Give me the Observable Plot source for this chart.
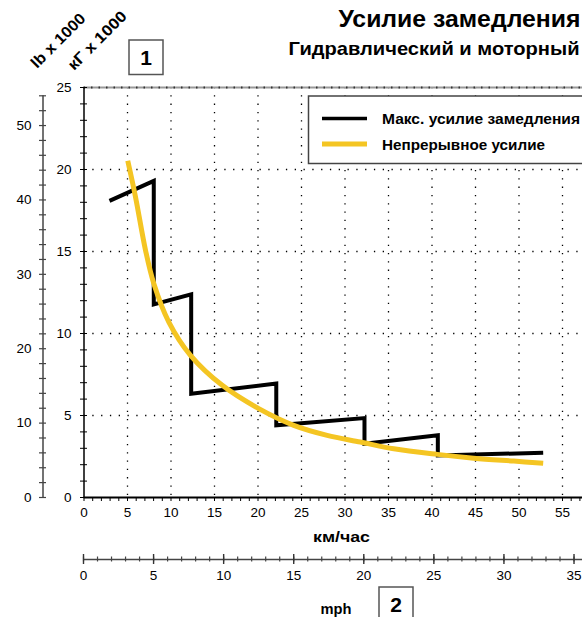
<!DOCTYPE html>
<html><head><meta charset="utf-8">
<script src="https://cdn.jsdelivr.net/npm/d3@7"></script>
<script src="https://cdn.jsdelivr.net/npm/@observablehq/plot@0.6"></script>
<style>
html,body{margin:0;padding:0;overflow:hidden;background:#fff;}
#wrap{position:relative;width:640px;height:617px;font-family:"Liberation Sans",Arial,sans-serif;}
#wrap > svg{position:absolute;}
</style></head><body><div id="wrap"></div>
<script>
// ---- texts ----
const titleText = "Усилие замедления";
const subtitleText = "Гидравлический и моторный";
const seriesNames = ["Макс. усилие замедления", "Непрерывное усилие"];
const xLabelKm = "км/час";
const xLabelMph = "mph";
const yLabelLb = "lb x 1000";
const yLabelKg = "кГ x 1000";
const markers = ["1", "2"];

// ---- series: max retarding force (kG x 1000) vs speed (km/h) ----
const maxSpeed = [2.93, 8.02, 8.02, 12.32, 12.32, 22.1, 22.1, 32.24, 32.24, 40.67, 40.67, 52.78];
const maxForce = [18.09, 19.31, 11.78, 12.39, 6.33, 6.95, 4.4, 4.84, 3.28, 3.79, 2.56, 2.73];
// ---- series: continuous force ----
const contSpeed = [5.03, 5.92, 7.07, 8.02, 9.75, 12.24, 15.89, 20.09, 24.11, 27.95, 31.78, 35.61, 40.6, 44.8, 49.4, 52.78];
const contForce = [20.53, 18.33, 15.08, 13.05, 10.7, 8.67, 6.84, 5.42, 4.4, 3.79, 3.38, 2.97, 2.63, 2.4, 2.22, 2.09];

// ---- ticks ----
const kmTicks = d3.range(0, 61, 1);
const kmLabels = [0, 5, 10, 15, 20, 25, 30, 35, 40, 45, 50, 55];
const kmGrid = [5, 10, 15, 20, 25, 30, 35, 40, 45, 50, 55];
const kgTicks = d3.range(0, 26, 1);
const kgLabels = [0, 5, 10, 15, 20, 25];
const kgGrid = [5, 10, 15, 20];
const lbTicks = d3.range(0, 55, 2);
const lbLabels = [0, 10, 20, 30, 40, 50];
const mphMinor = d3.range(0, 38, 1);
const mphMajor = [0, 5, 10, 15, 20, 25, 30, 35];

const KG_TO_LB = 2.20462, MPH_TO_KM = 1.60934;
const maxData = maxSpeed.map((s, i) => ({speed: s, force: maxForce[i]}));
const contData = contSpeed.map((s, i) => ({speed: s, force: contForce[i]}));

const FONT = '"Liberation Sans", Arial, sans-serif';
const YEL = "#F4C523";
const W = 640, H = 617;
const wrap = document.getElementById("wrap");

// ---- main chart ----
const main = Plot.plot({
  width: W, height: H,
  marginTop: 87, marginBottom: 120, marginLeft: 83.5, marginRight: W - 605.5,
  x: {domain: [0, 60]}, y: {domain: [0, 25]},
  style: {fontFamily: FONT, fontSize: "13.5px", color: "#000", background: "transparent", overflow: "visible"},
  marks: [
    Plot.ruleX(kmGrid, {stroke: "#000", strokeWidth: 1.3, strokeDasharray: "1.3,7"}),
    Plot.ruleY(kgGrid, {stroke: "#000", strokeWidth: 1.3, strokeDasharray: "1.3,7.5"}),
    Plot.ruleY([25], {stroke: "#999", strokeWidth: 2}),
    Plot.ruleY([25], {stroke: "#333", strokeWidth: 2, strokeDasharray: "1.5,6"}),
    Plot.axisX({ticks: kmTicks, tickSize: 4, tickPadding: 6, label: null,
      tickFormat: d => kmLabels.includes(d) ? String(d) : ""}),
    Plot.axisY({ticks: kgTicks, tickSize: 7, dx: 3.5, tickPadding: 9, label: null,
      tickFormat: d => kgLabels.includes(d) ? String(d) : ""}),
    Plot.ruleX([0], {stroke: "#000", strokeWidth: 1.5}),
    Plot.ruleY([0], {stroke: "#000", strokeWidth: 2}),
    Plot.line(maxData, {x: "speed", y: "force", stroke: "#000", strokeWidth: 4,
      strokeLinejoin: "miter", strokeLinecap: "butt", strokeMiterlimit: 10}),
    Plot.line(contData, {x: "speed", y: "force", stroke: YEL, strokeWidth: 5,
      curve: "catmull-rom", strokeLinecap: "butt"})
  ]
});
main.style.left = "0px"; main.style.top = "0px";
wrap.appendChild(main);

// ---- lb axis ----
const lbPlot = Plot.plot({
  width: 60, height: H,
  marginTop: 87, marginBottom: 120, marginLeft: 39, marginRight: 14,
  x: {domain: [-1, 1], axis: null},
  y: {domain: [0, 25 * KG_TO_LB], axis: null},
  style: {fontFamily: FONT, fontSize: "13.5px", color: "#000", background: "transparent", overflow: "visible"},
  marks: [
    Plot.ruleX([0], {y1: 0, y2: d3.max(lbTicks), stroke: "#444", strokeWidth: 1.5}),
    Plot.tickY(lbTicks, {y: d => d, stroke: "#444", strokeWidth: 1.2}),
    Plot.text(lbLabels, {y: d => d, text: d => String(d), frameAnchor: "left", textAnchor: "end", dx: -8, fill: "#000"})
  ]
});
lbPlot.style.left = "0px"; lbPlot.style.top = "0px";
wrap.appendChild(lbPlot);

// ---- mph axis ----
const mphPlot = Plot.plot({
  width: W, height: 50,
  marginTop: 14, marginBottom: 26, marginLeft: 83, marginRight: W - 605.5,
  x: {domain: [0, 60 / MPH_TO_KM], axis: null},
  y: {domain: [-1, 1], axis: null},
  style: {fontFamily: FONT, fontSize: "13.5px", color: "#000", background: "transparent", overflow: "visible"},
  marks: [
    Plot.ruleY([0], {stroke: "#444", strokeWidth: 1.5}),
    Plot.tickX(mphMinor, {x: d => d, stroke: "#444", strokeWidth: 1.2, insetTop: 2.5, insetBottom: 2.5}),
    Plot.tickX(mphMajor, {x: d => d, stroke: "#333", strokeWidth: 1.4}),
    Plot.text(mphMajor, {x: d => d, text: d => String(d), frameAnchor: "bottom", dy: 15, fill: "#000"})
  ]
});
mphPlot.style.left = "0px"; mphPlot.style.top = "540px";
wrap.appendChild(mphPlot);

// ---- annotations ----
const svg = d3.create("svg").attr("width", W).attr("height", H)
  .style("left", "0px").style("top", "0px").style("font-family", FONT);
function boldText(x, y, size, len, txt, anchor) {
  const t = svg.append("text").attr("x", x).attr("y", y).attr("font-size", size)
    .attr("font-weight", "bold").attr("text-anchor", anchor || "start").text(txt);
  if (len) t.attr("textLength", len).attr("lengthAdjust", "spacingAndGlyphs");
  return t;
}
boldText(338.5, 26.5, 24, 242, titleText);
boldText(288.5, 55, 18.5, 291, subtitleText);
// rotated unit labels
svg.append("text").attr("transform", "translate(37,69) rotate(-45)").attr("font-size", 15.5)
  .attr("font-weight", "bold").attr("textLength", 70).attr("lengthAdjust", "spacingAndGlyphs").text(yLabelLb);
svg.append("text").attr("transform", "translate(74,71) rotate(-45)").attr("font-size", 15.5)
  .attr("font-weight", "bold").attr("textLength", 76).attr("lengthAdjust", "spacingAndGlyphs").text(yLabelKg);
// marker boxes
const boxes = [{x: 129, y: 40, t: markers[0]}, {x: 379, y: 587, t: markers[1]}];
boxes.forEach(b => {
  svg.append("rect").attr("x", b.x).attr("y", b.y).attr("width", 34).attr("height", 34.5)
    .attr("fill", "#fff").attr("stroke", "#555").attr("stroke-width", 1.5);
  svg.append("text").attr("x", b.x + 17).attr("y", b.y + 25).attr("text-anchor", "middle")
    .attr("font-size", 21).attr("font-weight", "bold").text(b.t);
});
// axis titles
boldText(341.5, 542, 15.5, 57, xLabelKm, "middle");
boldText(336, 614, 15.5, 31, xLabelMph, "middle");
// legend
const lg = svg.append("g");
lg.append("rect").attr("x", 308.5).attr("y", 96).attr("width", 320).attr("height", 67.5)
  .attr("fill", "#fff").attr("stroke", "#444").attr("stroke-width", 1.5);
const legendItems = [
  {name: seriesNames[0], color: "#000", w: 3.5, y: 118.5, len: 198},
  {name: seriesNames[1], color: YEL, w: 5, y: 144, len: 163}
];
legendItems.forEach(it => {
  lg.append("line").attr("x1", 322).attr("x2", 367).attr("y1", it.y).attr("y2", it.y)
    .attr("stroke", it.color).attr("stroke-width", it.w);
  lg.append("text").attr("x", 382).attr("y", it.y + 5.5).attr("font-size", 14.5).attr("font-weight", "bold")
    .attr("textLength", it.len).attr("lengthAdjust", "spacingAndGlyphs").text(it.name);
});
wrap.appendChild(svg.node());
</script></body></html>
